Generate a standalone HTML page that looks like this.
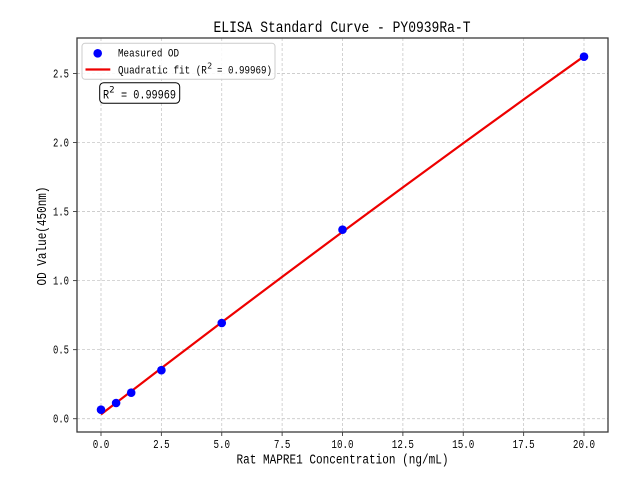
<!DOCTYPE html>
<html>
<head>
<meta charset="utf-8">
<style>
  html, body { margin: 0; padding: 0; background: #ffffff; }
  svg { display: block; }
  text { font-family: "Liberation Mono", "WenQuanYi Zen Hei", monospace; fill: #000; }
  .sup { font-family: "DejaVu Sans", "Liberation Sans", sans-serif; }
</style>
</head>
<body>
<svg width="640" height="480" viewBox="0 0 640 480" xmlns="http://www.w3.org/2000/svg">
  <rect x="0" y="0" width="640" height="480" fill="#ffffff"/>

  <!-- grid -->
  <g stroke="#c8c8c8" stroke-width="0.8" stroke-dasharray="3,2" fill="none">
    <line x1="101" y1="38" x2="101" y2="432"/>
    <line x1="161.375" y1="38" x2="161.375" y2="432"/>
    <line x1="221.75" y1="38" x2="221.75" y2="432"/>
    <line x1="282.125" y1="38" x2="282.125" y2="432"/>
    <line x1="342.5" y1="38" x2="342.5" y2="432"/>
    <line x1="402.875" y1="38" x2="402.875" y2="432"/>
    <line x1="463.25" y1="38" x2="463.25" y2="432"/>
    <line x1="523.625" y1="38" x2="523.625" y2="432"/>
    <line x1="584" y1="38" x2="584" y2="432"/>
    <line x1="77" y1="418.7" x2="608" y2="418.7"/>
    <line x1="77" y1="349.65" x2="608" y2="349.65"/>
    <line x1="77" y1="280.6" x2="608" y2="280.6"/>
    <line x1="77" y1="211.55" x2="608" y2="211.55"/>
    <line x1="77" y1="142.5" x2="608" y2="142.5"/>
    <line x1="77" y1="73.45" x2="608" y2="73.45"/>
  </g>

  <!-- fit line -->
  <polyline fill="none" stroke="#ee0000" stroke-width="2.2" stroke-linejoin="round"
    points="101,414.43 161.375,368.14 221.75,322.28 282.125,276.86 342.5,231.87 402.875,187.33 463.25,143.21 523.625,99.54 584,56.31"/>

  <!-- data points -->
  <g fill="#0000ff">
    <circle cx="101" cy="409.7" r="4.3"/>
    <circle cx="116.1" cy="403" r="4.3"/>
    <circle cx="131.2" cy="392.7" r="4.3"/>
    <circle cx="161.4" cy="370.2" r="4.3"/>
    <circle cx="221.75" cy="323" r="4.3"/>
    <circle cx="342.5" cy="229.7" r="4.3"/>
    <circle cx="584" cy="56.7" r="4.3"/>
  </g>

  <!-- spines -->
  <rect x="77" y="38" width="531" height="394" fill="none" stroke="#3a3a3a" stroke-width="1.3"/>

  <!-- ticks -->
  <g stroke="#3a3a3a" stroke-width="0.9">
    <line x1="101" y1="432" x2="101" y2="436"/>
    <line x1="161.375" y1="432" x2="161.375" y2="436"/>
    <line x1="221.75" y1="432" x2="221.75" y2="436"/>
    <line x1="282.125" y1="432" x2="282.125" y2="436"/>
    <line x1="342.5" y1="432" x2="342.5" y2="436"/>
    <line x1="402.875" y1="432" x2="402.875" y2="436"/>
    <line x1="463.25" y1="432" x2="463.25" y2="436"/>
    <line x1="523.625" y1="432" x2="523.625" y2="436"/>
    <line x1="584" y1="432" x2="584" y2="436"/>
    <line x1="73" y1="418.7" x2="77" y2="418.7"/>
    <line x1="73" y1="349.65" x2="77" y2="349.65"/>
    <line x1="73" y1="280.6" x2="77" y2="280.6"/>
    <line x1="73" y1="211.55" x2="77" y2="211.55"/>
    <line x1="73" y1="142.5" x2="77" y2="142.5"/>
    <line x1="73" y1="73.45" x2="77" y2="73.45"/>
  </g>

  <!-- x tick labels -->
  <g font-size="11.5" text-anchor="middle">
    <text x="101" y="447.8" textLength="16.6" lengthAdjust="spacingAndGlyphs">0.0</text>
    <text x="161.375" y="447.8" textLength="16.6" lengthAdjust="spacingAndGlyphs">2.5</text>
    <text x="221.75" y="447.8" textLength="16.6" lengthAdjust="spacingAndGlyphs">5.0</text>
    <text x="282.125" y="447.8" textLength="16.6" lengthAdjust="spacingAndGlyphs">7.5</text>
    <text x="342.5" y="447.8" textLength="22.2" lengthAdjust="spacingAndGlyphs">10.0</text>
    <text x="402.875" y="447.8" textLength="22.2" lengthAdjust="spacingAndGlyphs">12.5</text>
    <text x="463.25" y="447.8" textLength="22.2" lengthAdjust="spacingAndGlyphs">15.0</text>
    <text x="523.625" y="447.8" textLength="22.2" lengthAdjust="spacingAndGlyphs">17.5</text>
    <text x="584" y="447.8" textLength="22.2" lengthAdjust="spacingAndGlyphs">20.0</text>
  </g>

  <!-- y tick labels -->
  <g font-size="11.5" text-anchor="end">
    <text x="69" y="422.5" textLength="16" lengthAdjust="spacingAndGlyphs">0.0</text>
    <text x="69" y="353.45" textLength="16" lengthAdjust="spacingAndGlyphs">0.5</text>
    <text x="69" y="284.4" textLength="16" lengthAdjust="spacingAndGlyphs">1.0</text>
    <text x="69" y="215.35" textLength="16" lengthAdjust="spacingAndGlyphs">1.5</text>
    <text x="69" y="146.3" textLength="16" lengthAdjust="spacingAndGlyphs">2.0</text>
    <text x="69" y="77.25" textLength="16" lengthAdjust="spacingAndGlyphs">2.5</text>
  </g>

  <!-- axis labels -->
  <text x="342.5" y="463.5" font-size="13.5" text-anchor="middle" textLength="212" lengthAdjust="spacingAndGlyphs">Rat MAPRE1 Concentration (ng/mL)</text>
  <text transform="translate(46,236) rotate(-90)" x="0" y="0" font-size="13.5" text-anchor="middle" textLength="99" lengthAdjust="spacingAndGlyphs">OD Value(450nm)</text>

  <!-- title -->
  <text x="342" y="32" font-size="16" text-anchor="middle" textLength="257" lengthAdjust="spacingAndGlyphs">ELISA Standard Curve - PY0939Ra-T</text>

  <!-- legend -->
  <rect x="82" y="43.3" width="193" height="36" rx="3" ry="3" fill="#ffffff" fill-opacity="0.85" stroke="#cccccc" stroke-width="1"/>
  <circle cx="97.7" cy="53.3" r="4.3" fill="#0000ff"/>
  <line x1="85.5" y1="69.5" x2="110.3" y2="69.5" stroke="#ee0000" stroke-width="2.2"/>
  <text x="118" y="56.7" font-size="11.3" textLength="61" lengthAdjust="spacingAndGlyphs">Measured OD</text>
  <text x="118" y="73.5" font-size="11.3" textLength="88.8" lengthAdjust="spacingAndGlyphs">Quadratic fit (R</text>
  <text class="sup" x="207.2" y="68.5" font-size="7.8">2</text>
  <text x="217" y="73.5" font-size="11.3" textLength="55" lengthAdjust="spacingAndGlyphs">= 0.99969)</text>

  <!-- R^2 annotation box -->
  <rect x="99.7" y="82.7" width="80" height="20.6" rx="4" ry="4" fill="#ffffff" stroke="#000000" stroke-width="1"/>
  <text x="103" y="98.3" font-size="12.5" textLength="6.1" lengthAdjust="spacingAndGlyphs">R</text>
  <text class="sup" x="109.3" y="92.3" font-size="8.5">2</text>
  <text x="121" y="98.3" font-size="12.5" textLength="55" lengthAdjust="spacingAndGlyphs">= 0.99969</text>
</svg>
</body>
</html>
